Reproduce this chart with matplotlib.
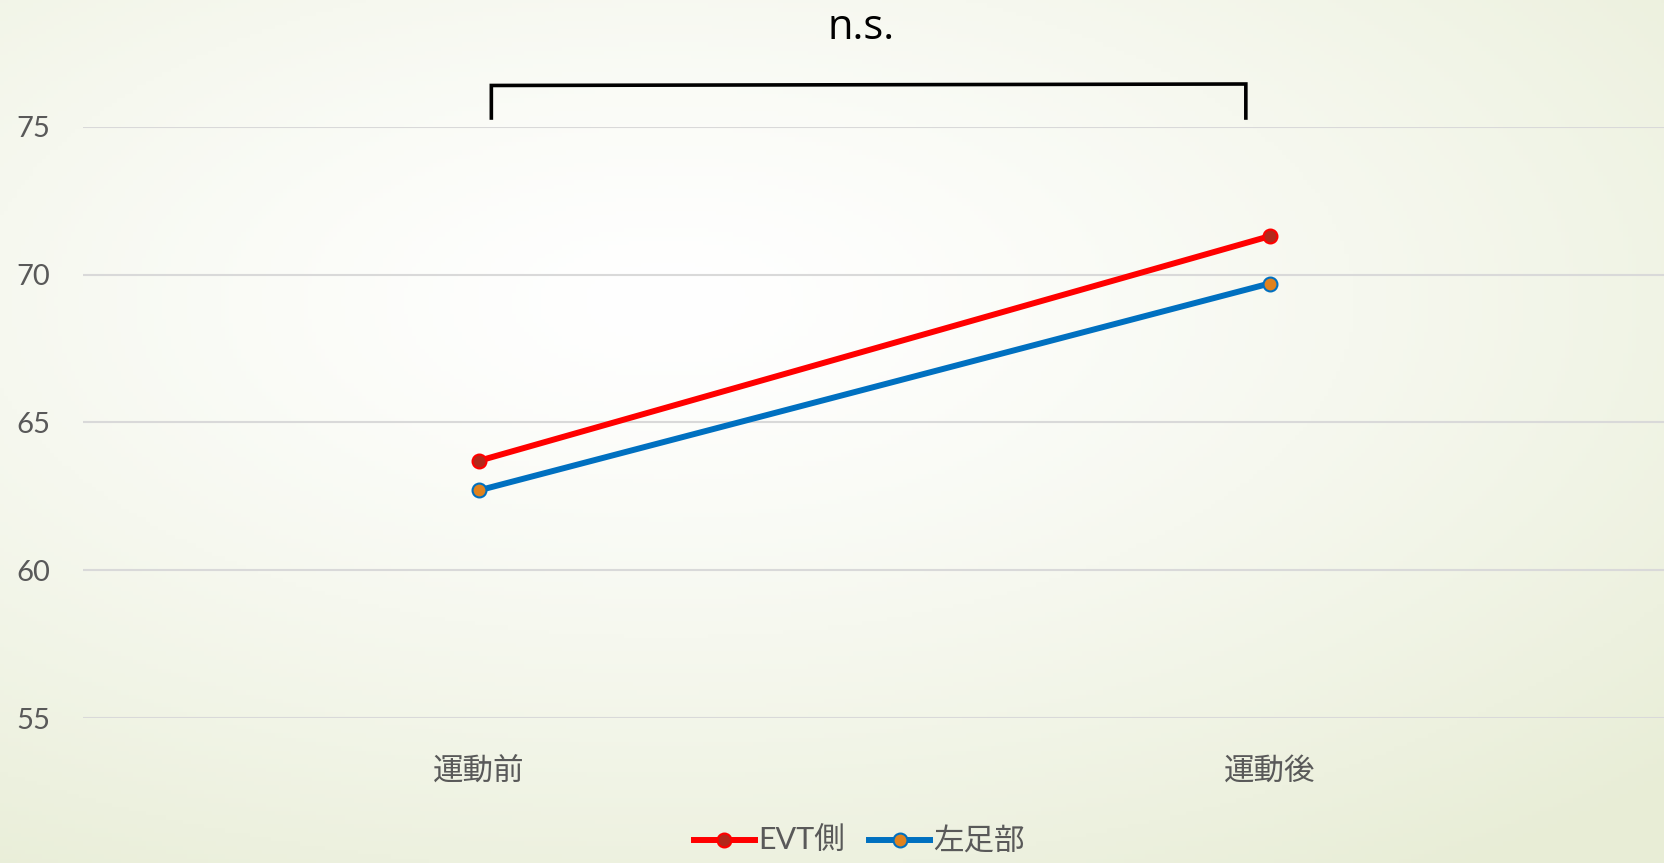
import matplotlib.pyplot as plt
import numpy as np

plt.rcParams['font.family'] = ['Lato', 'Noto Sans CJK JP', 'DejaVu Sans']

# data
categories = ["運動前", "運動後"]
evt_vals = [63.7, 71.3]
left_vals = [62.7, 69.7]
series_names = ["EVT側", "左足部"]
y_ticks = [55, 60, 65, 70, 75]

fig = plt.figure(figsize=(16.65, 8.63), dpi=100)

# soft radial background, white in the middle and pale green at the edges
bg = fig.add_axes([0, 0, 1, 1])
gx, gy = np.meshgrid(np.linspace(0, 1, 400), np.linspace(0, 1, 200))
r = np.sqrt(((gx - 0.4) / 0.85) ** 2 + ((gy - 0.65) / 0.8) ** 2)
r = np.clip(r, 0, 1) ** 1.3
c_in = np.array([1.0, 1.0, 1.0])
c_out = np.array([0.91, 0.93, 0.84])
img = c_in[None, None, :] * (1 - r[..., None]) + c_out[None, None, :] * r[..., None]
bg.imshow(img, extent=[0, 1, 0, 1], aspect="auto", origin="lower")
bg.set_axis_off()

ax = fig.add_axes([0.05, 0.168, 0.95, 0.685])
ax.set_facecolor("none")
x = np.arange(len(categories))

ax.plot(x, evt_vals, color="#FF0000", lw=4.3, marker="o", ms=10,
        mfc="#B3271A", mec="#FF0000", mew=1.5, label=series_names[0], zorder=3)
ax.plot(x, left_vals, color="#0070C0", lw=4.3, marker="o", ms=10,
        mfc="#E0821E", mec="#0070C0", mew=1.5, label=series_names[1], zorder=3)

ax.set_xlim(-0.5, 1.5)
ax.set_ylim(55, 75)
ax.set_yticks(y_ticks)
ax.set_xticks(x)
ax.set_xticklabels(categories)
ax.grid(axis="y", color="#D9D9D9", lw=1.5)
ax.set_axisbelow(True)
for s in ax.spines.values():
    s.set_visible(False)
ax.tick_params(length=0, colors="#595959")
ax.tick_params(axis="x", labelsize=22, pad=28)
ax.tick_params(axis="y", labelsize=21, pad=24)

# significance bracket
ax.plot([0.016, 0.016, 0.97, 0.97], [75.3, 76.4, 76.45, 75.3],
        color="black", lw=2.6, clip_on=False, solid_joinstyle="miter")
fig.text(0.517, 0.968, "n.s.", ha="center", va="center", fontsize=30,
         family=["Open Sans", "DejaVu Sans"])

leg = fig.legend(loc="center", bbox_to_anchor=(0.516, 0.025), ncol=2,
                 frameon=False, fontsize=22, handlelength=2.0,
                 handletextpad=0.1, columnspacing=0.8)
for t in leg.get_texts():
    t.set_color("#595959")

fig.savefig("out.png", dpi=100)
